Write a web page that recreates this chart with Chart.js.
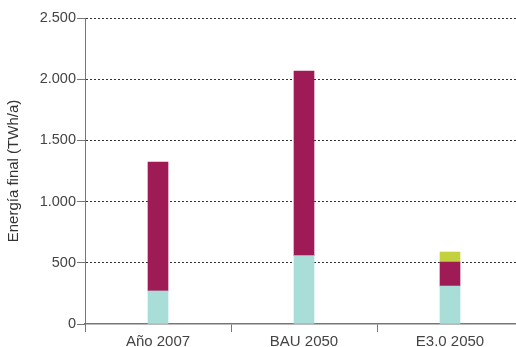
<!DOCTYPE html>
<html lang="es">
<head>
  <meta charset="UTF-8" />
  <title>Energía final</title>
  <script src="https://cdn.jsdelivr.net/npm/chart.js"></script>
  <style>
    html, body {
      margin: 0;
      padding: 0;
      background: #fff;
      overflow: hidden;
    }
    .wrap {
      width: 523px;
      height: 347px;
    }
  </style>
</head>
<body>
  <div class="wrap"><canvas id="chart"></canvas></div>

  <script>
    const categories = ['Año 2007', 'BAU 2050', 'E3.0 2050'];
    const tealValues = [270, 558, 310];
    const maroonValues = [1053, 1509, 196];
    const greenValues = [null, null, 82];
    const yTicks = [0, 500, 1000, 1500, 2000, 2500];

    const ctx = document.getElementById('chart').getContext('2d');
    Chart.defaults.font.family = '"Liberation Sans", Arial, sans-serif';
    Chart.defaults.color = '#444';

    new Chart(ctx, {
      type: 'bar',
      data: {
        labels: categories,
        datasets: [
          { label: 'Serie 1', data: tealValues, backgroundColor: '#a8ddd8', barThickness: 20 },
          { label: 'Serie 2', data: maroonValues, backgroundColor: '#9e1b55', barThickness: 20 },
          { label: 'Serie 3', data: greenValues, backgroundColor: '#c4d13f', barThickness: 20 }
        ]
      },
      options: {
        responsive: true,
        maintainAspectRatio: false,
        animation: false,
        layout: { padding: { top: 18, right: 0, left: 0, bottom: 0 } },
        plugins: {
          legend: { display: false },
          tooltip: { enabled: false }
        },
        scales: {
          x: {
            stacked: true,
            grid: {
              offset: true,
              drawOnChartArea: false,
              drawTicks: true,
              tickLength: 8,
              tickColor: '#777',
              tickWidth: 1
            },
            border: { color: '#777', width: 1.5 },
            ticks: { font: { size: 15 }, color: '#444', padding: 1 },
            afterFit: s => { s.height = 23; }
          },
          y: {
            stacked: true,
            min: 0,
            max: 2500,
            z: 1,
            afterBuildTicks: s => { s.ticks = yTicks.map(v => ({ value: v })); },
            afterFit: s => { s.width = 85; },
            grid: {
              color: c => (c.tick && c.tick.value === 0) ? 'rgba(0,0,0,0)' : '#333',
              lineWidth: 1,
              drawTicks: true,
              tickLength: 8,
              tickColor: '#777',
              tickWidth: 1
            },
            border: { color: '#777', width: 1, dash: [2, 2] },
            ticks: {
              font: { size: 14.5 },
              color: '#444',
              padding: 1,
              callback: v => v.toLocaleString('de-DE')
            },
            title: {
              display: true,
              text: 'Energía final (TWh/a)',
              font: { size: 15 },
              color: '#333',
              padding: { top: 5, bottom: 0 }
            }
          }
        }
      }
    });
  </script>
</body>
</html>
